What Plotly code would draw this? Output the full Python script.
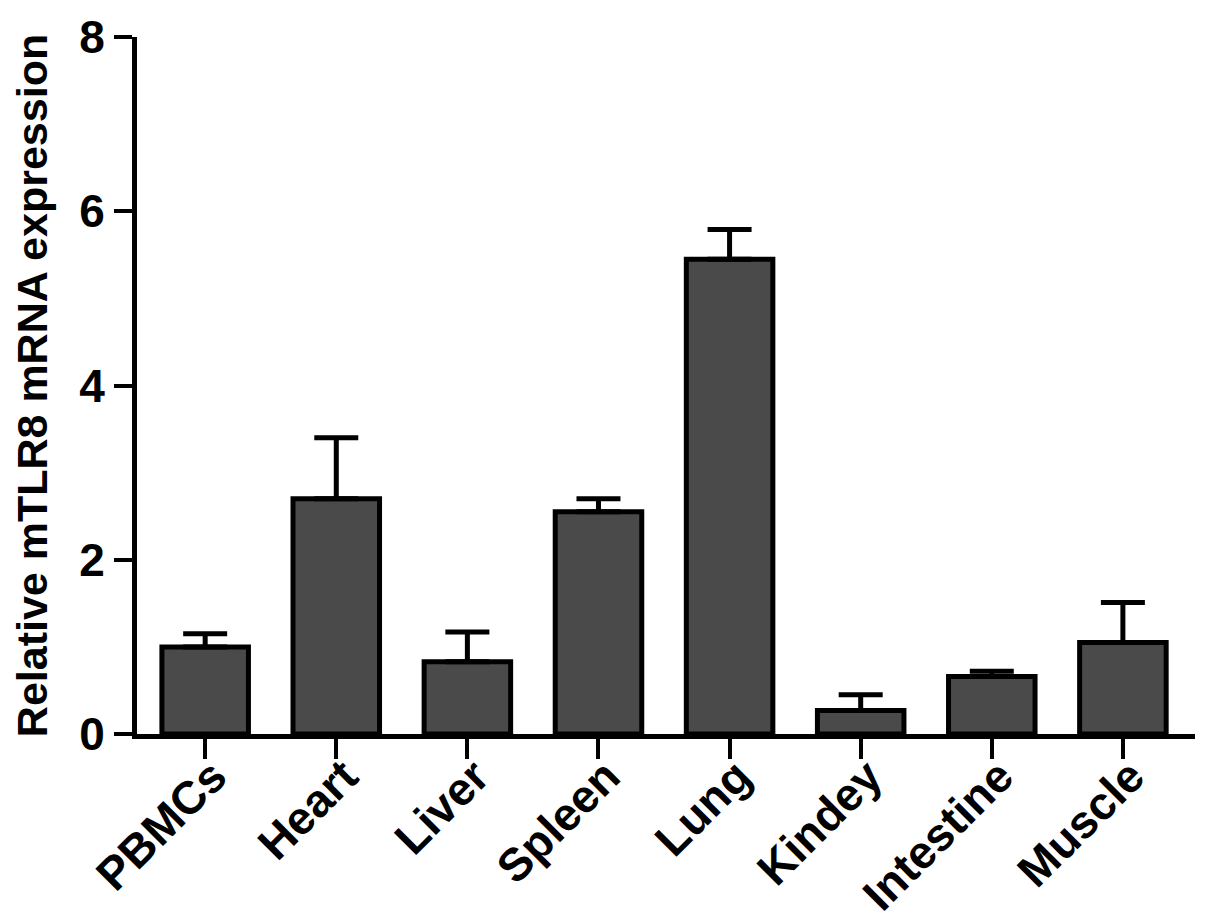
import plotly.graph_objects as go

categories = ["PBMCs", "Heart", "Liver", "Spleen", "Lung", "Kindey", "Intestine", "Muscle"]
values = [1.00, 2.70, 0.83, 2.55, 5.45, 0.27, 0.66, 1.05]
errors = [0.15, 0.70, 0.34, 0.15, 0.34, 0.18, 0.06, 0.46]
y_ticks = [0, 2, 4, 6, 8]

FONT = "Liberation Sans, Arial, sans-serif"

fig = go.Figure()
fig.add_trace(go.Bar(
    x=list(range(len(categories))),
    y=values,
    width=0.66,
    marker=dict(color="#4a4a4a", line=dict(color="black", width=5)),
    error_y=dict(type="data", array=errors, arrayminus=[0] * len(errors),
                 symmetric=False, color="black", thickness=5, width=22),
))

fig.update_layout(
    width=1197, height=912,
    paper_bgcolor="white", plot_bgcolor="white",
    margin=dict(l=129, r=10, t=29, b=186),
    showlegend=False,
)
fig.update_xaxes(
    range=[-0.52, 7.55],
    tickmode="array", tickvals=list(range(len(categories))), ticktext=categories,
    tickangle=-45,
    tickfont=dict(family=FONT, size=46, color="black", weight="bold"),
    showline=True, linecolor="black", linewidth=5,
    ticks="outside", ticklen=20, tickwidth=4, tickcolor="black",
    ticklabelstandoff=-28, ticklabelshift=8,
    ticklabeloverflow="allow",
    showgrid=False, zeroline=False, automargin=False,
)
fig.update_yaxes(
    range=[0, 8],
    tickmode="array", tickvals=y_ticks, ticktext=[str(v) for v in y_ticks],
    tickfont=dict(family=FONT, size=46, color="black", weight="bold"),
    showline=True, linecolor="black", linewidth=5,
    ticks="outside", ticklen=18, tickwidth=4, tickcolor="black",
    ticklabeloverflow="allow",
    showgrid=False, zeroline=False, automargin=False,
    title=dict(text="Relative mTLR8 mRNA expression",
               font=dict(family=FONT, size=43, color="black", weight="bold"),
               standoff=26),
)

fig.write_html("out.html")
